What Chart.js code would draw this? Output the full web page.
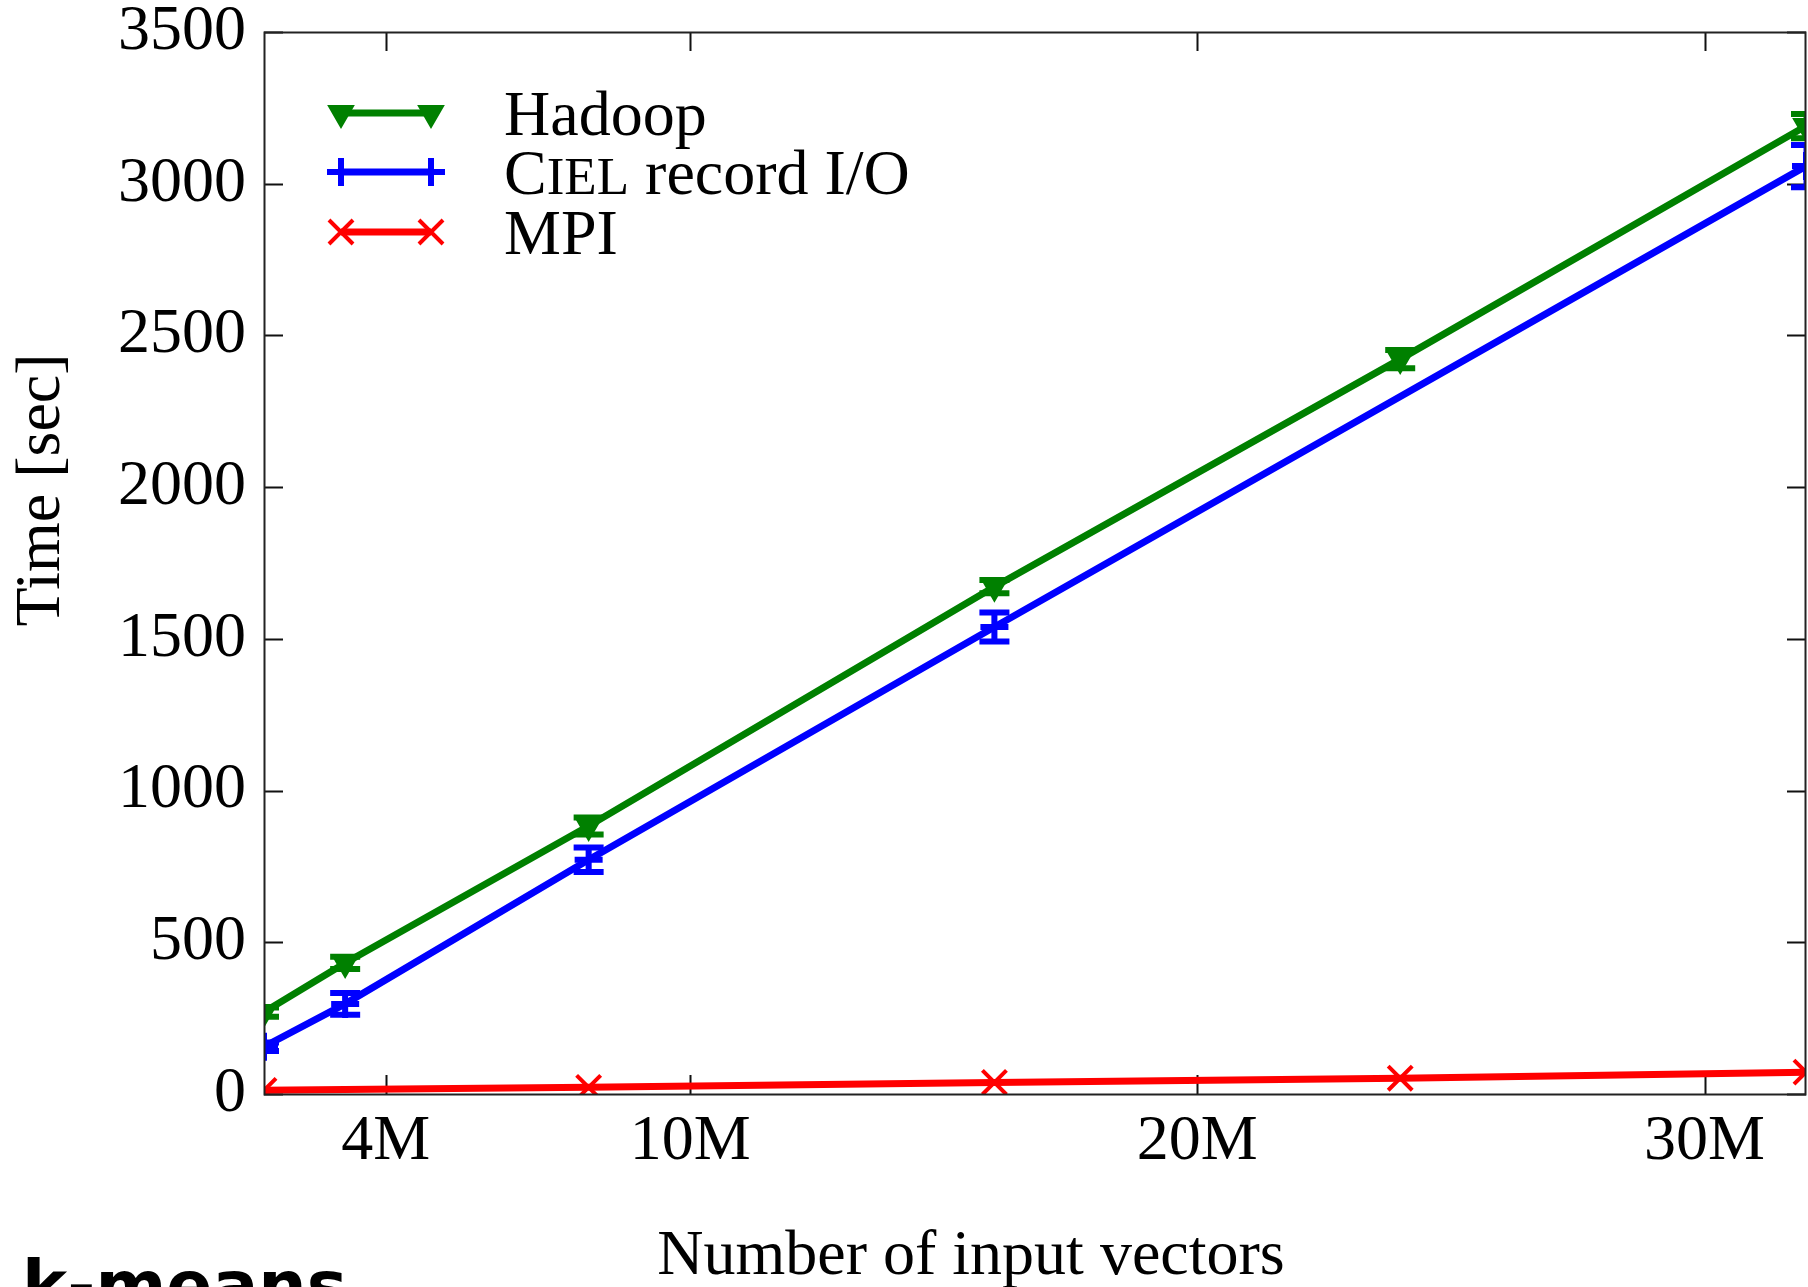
<!DOCTYPE html>
<html>
<head>
<meta charset="utf-8">
<script src="https://cdn.jsdelivr.net/npm/chart.js@4/dist/chart.umd.min.js"></script>
<style>
html,body{margin:0;padding:0;background:#fff;}
canvas{display:block;}
</style>
</head>
<body>
<canvas id="c" width="1808" height="1287"></canvas>
<script>
// ---- data ----
const inputVectorsM = [1.6, 3.2, 8, 16, 24, 32];
const hadoopTime = [270, 432, 883, 1672, 2422, 3190];
const hadoopErr  = [15, 20, 28, 22, 30, 40];
const cielTime   = [156, 297, 772, 1539, null, 3058];
const cielErr    = [14, 36, 40, 48, null, 70];
const mpiTime    = [12, null, 22, 38, 52, 72];
const mpiErr     = [0, 0, 0, 0, 0, 0];
const xTickValues = [4, 10, 20, 30];
const xTickSuffix = 'M';
const yTickStep = 500;
const yMax = 3500;
const seriesNames = ['Hadoop', 'CIEL record I/O', 'MPI'];
const seriesColors = ['#008000', '#0000ff', '#ff0000'];
const xTitle = 'Number of input vectors';
const yTitle = 'Time [sec]';
const panelLabel = 'k-means';

const SERIF = '"Liberation Serif", "Times New Roman", serif';
const FS = 64;
const toPoints = ys => inputVectorsM.map((x, i) => ({x: x, y: ys[i]}));
const errors = [hadoopErr, cielErr, mpiErr];

const markerDefs = [
  {pointStyle: 'triangle', rotation: 180, radius: 13, borderWidth: 3},
  {pointStyle: 'cross', rotation: 0, radius: 14, borderWidth: 6},
  {pointStyle: 'crossRot', rotation: 0, radius: 17, borderWidth: 4}
];

function fontStr(size, weight) { return (weight ? weight + ' ' : '') + size + 'px ' + SERIF; }

const decor = {
  id: 'decor',
  beforeDatasetsDraw(chart) {
    const ctx = chart.ctx, a = chart.chartArea;
    const xs = chart.scales.x, ys = chart.scales.y;
    ctx.save();
    ctx.strokeStyle = '#111';
    ctx.lineWidth = 2;
    const tl = 19;
    xs.ticks.forEach(t => {
      const px = Math.round(xs.getPixelForValue(t.value)) + 0.5;
      ctx.beginPath();
      ctx.moveTo(px, a.bottom); ctx.lineTo(px, a.bottom - tl);
      ctx.moveTo(px, a.top); ctx.lineTo(px, a.top + tl);
      ctx.stroke();
    });
    ys.ticks.forEach(t => {
      const py = Math.round(ys.getPixelForValue(t.value)) + 0.5;
      ctx.beginPath();
      ctx.moveTo(a.left, py); ctx.lineTo(a.left + tl, py);
      ctx.moveTo(a.right, py); ctx.lineTo(a.right - tl, py);
      ctx.stroke();
    });
    ctx.restore();
  },
  afterDatasetsDraw(chart) {
    const ctx = chart.ctx, a = chart.chartArea;
    const ys = chart.scales.y;
    // error bars
    ctx.save();
    ctx.beginPath();
    ctx.rect(a.left, a.top, a.right - a.left, a.bottom - a.top);
    ctx.clip();
    chart.data.datasets.forEach((ds, di) => {
      const meta = chart.getDatasetMeta(di);
      ctx.strokeStyle = ds.borderColor;
      meta.data.forEach((pt, j) => {
        const raw = ds.data[j];
        const e = errors[di][j];
        if (raw.y === null || !e) return;
        const yTop = ys.getPixelForValue(raw.y + e);
        const yBot = ys.getPixelForValue(raw.y - e);
        const cw = 15;
        ctx.lineWidth = 5;
        ctx.beginPath();
        ctx.moveTo(pt.x, yTop); ctx.lineTo(pt.x, yBot);
        ctx.stroke();
        ctx.lineWidth = 6;
        ctx.beginPath();
        ctx.moveTo(pt.x - cw, yTop); ctx.lineTo(pt.x + cw, yTop);
        ctx.moveTo(pt.x - cw, yBot); ctx.lineTo(pt.x + cw, yBot);
        ctx.stroke();
      });
    });
    ctx.restore();
    // frame
    ctx.save();
    ctx.strokeStyle = '#222';
    ctx.lineWidth = 2;
    ctx.strokeRect(a.left + 0.5, a.top + 0.5, a.right - a.left - 1, a.bottom - a.top);
    ctx.restore();
  },
  afterDraw(chart) {
    const ctx = chart.ctx;
    ctx.save();
    ctx.fillStyle = '#000';
    // legend
    const lx0 = 341, lx1 = 431, rowY = [113, 172, 232], baseY = [135, 194, 254], textX = 504;
    chart.data.datasets.forEach((ds, i) => {
      ctx.strokeStyle = ds.borderColor;
      ctx.lineWidth = 7;
      ctx.beginPath();
      ctx.moveTo(lx0, rowY[i]); ctx.lineTo(lx1, rowY[i]);
      ctx.stroke();
      [lx0, lx1].forEach(px => {
        ctx.fillStyle = ds.pointBackgroundColor;
        ctx.strokeStyle = ds.borderColor;
        ctx.lineWidth = markerDefs[i].borderWidth;
        Chart.helpers.drawPoint(ctx, markerDefs[i], px, rowY[i]);
      });
      ctx.fillStyle = '#000';
      ctx.textBaseline = 'alphabetic';
      ctx.textAlign = 'left';
      const name = seriesNames[i];
      if (name === 'CIEL record I/O') {
        const sp = name.indexOf(' ');
        let x = textX;
        ctx.font = fontStr(FS);
        ctx.fillText(name[0], x, baseY[i]);
        x += ctx.measureText(name[0]).width;
        ctx.font = fontStr(53);
        ctx.fillText(name.slice(1, sp), x, baseY[i]);
        x += ctx.measureText(name.slice(1, sp)).width;
        ctx.font = fontStr(FS);
        ctx.fillText(name.slice(sp), x, baseY[i]);
      } else {
        ctx.font = fontStr(FS);
        ctx.fillText(name, textX, baseY[i]);
      }
    });
    // axis titles
    ctx.font = fontStr(FS);
    ctx.textAlign = 'center';
    ctx.textBaseline = 'alphabetic';
    ctx.fillText(xTitle, 971, 1274);
    ctx.save();
    ctx.translate(42, 490);
    ctx.rotate(-Math.PI / 2);
    ctx.textBaseline = 'middle';
    ctx.fillText(yTitle, 0, 0);
    ctx.restore();
    // panel label
    ctx.font = 'bold 68px "DejaVu Sans", sans-serif';
    ctx.textAlign = 'left';
    ctx.textBaseline = 'alphabetic';
    ctx.fillText(panelLabel, 22, 1309);
    ctx.restore();
  }
};

const datasets = [hadoopTime, cielTime, mpiTime].map((ys, i) => ({
  label: seriesNames[i],
  data: toPoints(ys),
  borderColor: seriesColors[i],
  backgroundColor: seriesColors[i],
  pointBackgroundColor: seriesColors[i],
  pointBorderColor: seriesColors[i],
  pointStyle: markerDefs[i].pointStyle,
  pointRotation: markerDefs[i].rotation,
  pointRadius: markerDefs[i].radius,
  pointBorderWidth: markerDefs[i].borderWidth,
  borderWidth: 7,
  spanGaps: true,
  showLine: true,
  fill: false,
  tension: 0,
  clip: 0
}));

const tickFont = {family: SERIF, size: FS, lineHeight: 1};

new Chart(document.getElementById('c'), {
  type: 'scatter',
  data: {datasets: datasets},
  options: {
    responsive: false,
    animation: false,
    devicePixelRatio: 1,
    layout: {autoPadding: false, padding: {top: 32, right: 2, bottom: 0, left: 0}},
    plugins: {legend: {display: false}, tooltip: {enabled: false}},
    scales: {
      x: {
        type: 'linear',
        min: inputVectorsM[0],
        max: inputVectorsM[inputVectorsM.length - 1],
        afterBuildTicks: s => { s.ticks = xTickValues.map(v => ({value: v})); },
        afterFit: s => { s.height = 193; s.paddingLeft = 0; s.paddingRight = 0; },
        ticks: {
          callback: v => v + xTickSuffix,
          font: tickFont, color: '#000', padding: 16,
          maxRotation: 0, autoSkip: false
        },
        grid: {display: false, drawTicks: false},
        border: {display: false}
      },
      y: {
        type: 'linear',
        min: 0,
        max: yMax,
        afterFit: s => { s.width = 264; s.paddingTop = 0; s.paddingBottom = 0; },
        ticks: {
          stepSize: yTickStep,
          callback: v => String(v),
          font: tickFont, color: '#000', padding: 18
        },
        grid: {display: false, drawTicks: false},
        border: {display: false}
      }
    }
  },
  plugins: [decor]
});
</script>
</body>
</html>
